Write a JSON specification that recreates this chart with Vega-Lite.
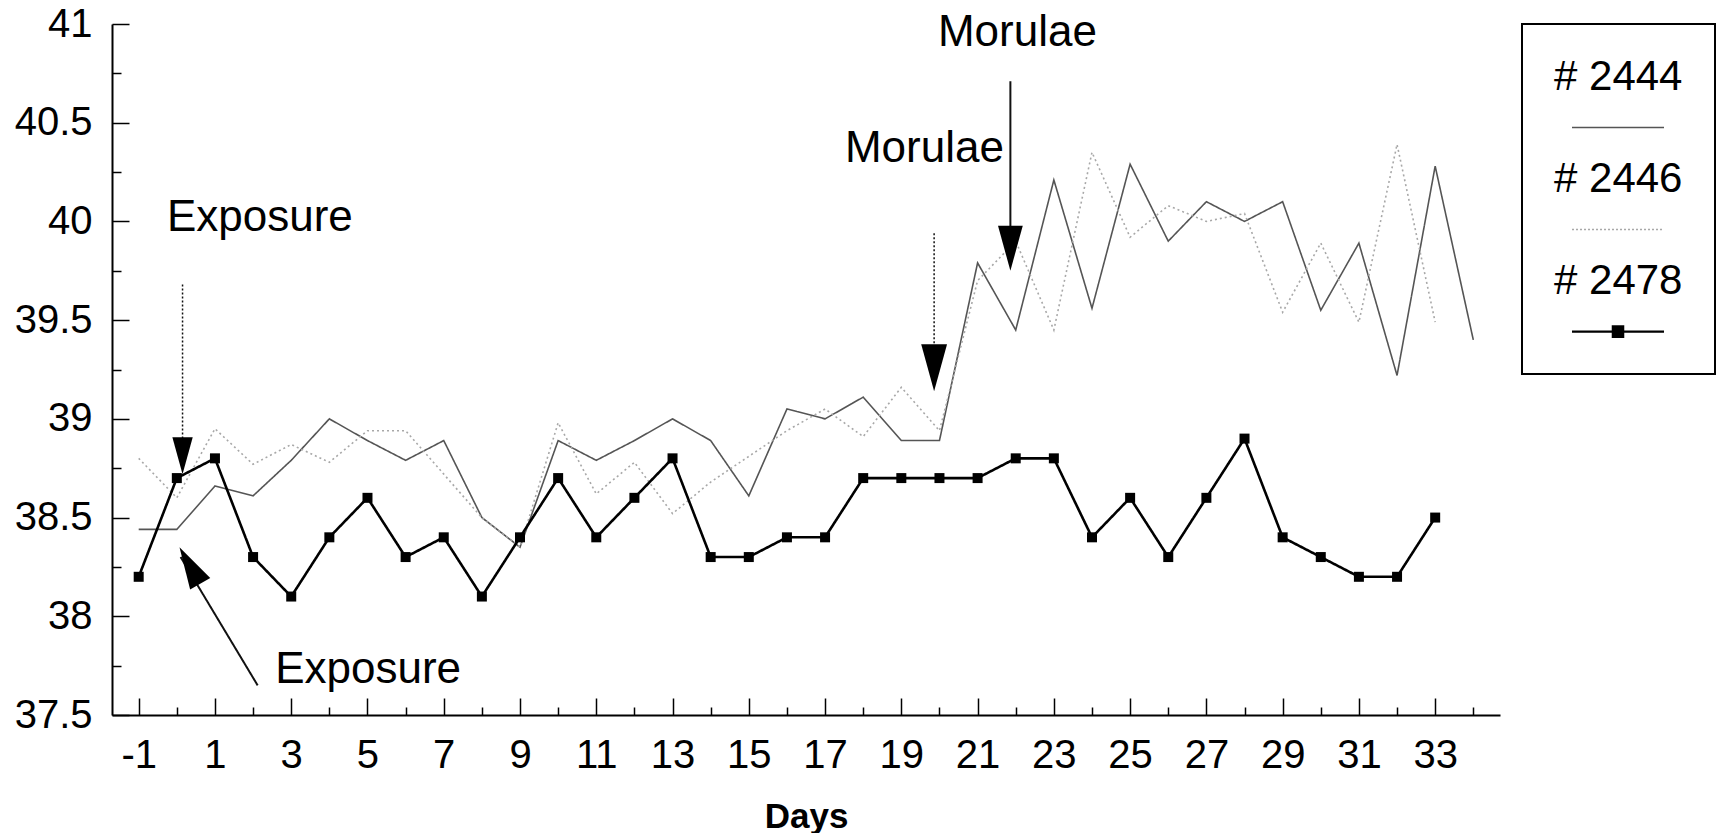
{
  "$schema": "https://vega.github.io/schema/vega-lite/v6.json",
  "width": 1388,
  "height": 691,
  "autosize": {"type": "none"},
  "padding": {"left": 112, "top": 24, "right": 218, "bottom": 118},
  "background": "white",
  "config": {"view": {"stroke": null}, "font": "Liberation Sans"},
  "datasets": {
    "temps": [
      {"series": "# 2444", "day": -1, "temp": 38.44}, {"series": "# 2444", "day": 0, "temp": 38.44}, {"series": "# 2444", "day": 1, "temp": 38.66}, {"series": "# 2444", "day": 2, "temp": 38.61}, {"series": "# 2444", "day": 3, "temp": 38.79}, {"series": "# 2444", "day": 4, "temp": 39.0}, {"series": "# 2444", "day": 5, "temp": 38.89}, {"series": "# 2444", "day": 6, "temp": 38.79}, {"series": "# 2444", "day": 7, "temp": 38.89}, {"series": "# 2444", "day": 8, "temp": 38.5}, {"series": "# 2444", "day": 9, "temp": 38.35}, {"series": "# 2444", "day": 10, "temp": 38.89}, {"series": "# 2444", "day": 11, "temp": 38.79}, {"series": "# 2444", "day": 12, "temp": 38.89}, {"series": "# 2444", "day": 13, "temp": 39.0}, {"series": "# 2444", "day": 14, "temp": 38.89}, {"series": "# 2444", "day": 15, "temp": 38.61}, {"series": "# 2444", "day": 16, "temp": 39.05}, {"series": "# 2444", "day": 17, "temp": 39.0}, {"series": "# 2444", "day": 18, "temp": 39.11}, {"series": "# 2444", "day": 19, "temp": 38.89}, {"series": "# 2444", "day": 20, "temp": 38.89}, {"series": "# 2444", "day": 21, "temp": 39.79}, {"series": "# 2444", "day": 22, "temp": 39.45}, {"series": "# 2444", "day": 23, "temp": 40.21}, {"series": "# 2444", "day": 24, "temp": 39.56}, {"series": "# 2444", "day": 25, "temp": 40.29}, {"series": "# 2444", "day": 26, "temp": 39.9}, {"series": "# 2444", "day": 27, "temp": 40.1}, {"series": "# 2444", "day": 28, "temp": 40.0}, {"series": "# 2444", "day": 29, "temp": 40.1}, {"series": "# 2444", "day": 30, "temp": 39.55}, {"series": "# 2444", "day": 31, "temp": 39.89}, {"series": "# 2444", "day": 32, "temp": 39.22}, {"series": "# 2444", "day": 33, "temp": 40.28}, {"series": "# 2444", "day": 34, "temp": 39.4},
      {"series": "# 2446", "day": -1, "temp": 38.8}, {"series": "# 2446", "day": 0, "temp": 38.6}, {"series": "# 2446", "day": 1, "temp": 38.95}, {"series": "# 2446", "day": 2, "temp": 38.77}, {"series": "# 2446", "day": 3, "temp": 38.87}, {"series": "# 2446", "day": 4, "temp": 38.78}, {"series": "# 2446", "day": 5, "temp": 38.94}, {"series": "# 2446", "day": 6, "temp": 38.94}, {"series": "# 2446", "day": 7, "temp": 38.72}, {"series": "# 2446", "day": 8, "temp": 38.5}, {"series": "# 2446", "day": 9, "temp": 38.35}, {"series": "# 2446", "day": 10, "temp": 38.98}, {"series": "# 2446", "day": 11, "temp": 38.62}, {"series": "# 2446", "day": 12, "temp": 38.78}, {"series": "# 2446", "day": 13, "temp": 38.52}, {"series": "# 2446", "day": 14, "temp": 38.68}, {"series": "# 2446", "day": 15, "temp": 38.81}, {"series": "# 2446", "day": 16, "temp": 38.94}, {"series": "# 2446", "day": 17, "temp": 39.05}, {"series": "# 2446", "day": 18, "temp": 38.91}, {"series": "# 2446", "day": 19, "temp": 39.16}, {"series": "# 2446", "day": 20, "temp": 38.94}, {"series": "# 2446", "day": 21, "temp": 39.7}, {"series": "# 2446", "day": 22, "temp": 39.9}, {"series": "# 2446", "day": 23, "temp": 39.45}, {"series": "# 2446", "day": 24, "temp": 40.35}, {"series": "# 2446", "day": 25, "temp": 39.92}, {"series": "# 2446", "day": 26, "temp": 40.08}, {"series": "# 2446", "day": 27, "temp": 40.0}, {"series": "# 2446", "day": 28, "temp": 40.04}, {"series": "# 2446", "day": 29, "temp": 39.54}, {"series": "# 2446", "day": 30, "temp": 39.89}, {"series": "# 2446", "day": 31, "temp": 39.49}, {"series": "# 2446", "day": 32, "temp": 40.39}, {"series": "# 2446", "day": 33, "temp": 39.49},
      {"series": "# 2478", "day": -1, "temp": 38.2}, {"series": "# 2478", "day": 0, "temp": 38.7}, {"series": "# 2478", "day": 1, "temp": 38.8}, {"series": "# 2478", "day": 2, "temp": 38.3}, {"series": "# 2478", "day": 3, "temp": 38.1}, {"series": "# 2478", "day": 4, "temp": 38.4}, {"series": "# 2478", "day": 5, "temp": 38.6}, {"series": "# 2478", "day": 6, "temp": 38.3}, {"series": "# 2478", "day": 7, "temp": 38.4}, {"series": "# 2478", "day": 8, "temp": 38.1}, {"series": "# 2478", "day": 9, "temp": 38.4}, {"series": "# 2478", "day": 10, "temp": 38.7}, {"series": "# 2478", "day": 11, "temp": 38.4}, {"series": "# 2478", "day": 12, "temp": 38.6}, {"series": "# 2478", "day": 13, "temp": 38.8}, {"series": "# 2478", "day": 14, "temp": 38.3}, {"series": "# 2478", "day": 15, "temp": 38.3}, {"series": "# 2478", "day": 16, "temp": 38.4}, {"series": "# 2478", "day": 17, "temp": 38.4}, {"series": "# 2478", "day": 18, "temp": 38.7}, {"series": "# 2478", "day": 19, "temp": 38.7}, {"series": "# 2478", "day": 20, "temp": 38.7}, {"series": "# 2478", "day": 21, "temp": 38.7}, {"series": "# 2478", "day": 22, "temp": 38.8}, {"series": "# 2478", "day": 23, "temp": 38.8}, {"series": "# 2478", "day": 24, "temp": 38.4}, {"series": "# 2478", "day": 25, "temp": 38.6}, {"series": "# 2478", "day": 26, "temp": 38.3}, {"series": "# 2478", "day": 27, "temp": 38.6}, {"series": "# 2478", "day": 28, "temp": 38.9}, {"series": "# 2478", "day": 29, "temp": 38.4}, {"series": "# 2478", "day": 30, "temp": 38.3}, {"series": "# 2478", "day": 31, "temp": 38.2}, {"series": "# 2478", "day": 32, "temp": 38.2}, {"series": "# 2478", "day": 33, "temp": 38.5}
    ],
    "notes": [
      {"label": "Exposure", "day": -0.26, "temp": 39.95},
      {"label": "Exposure", "day": 2.58, "temp": 37.66},
      {"label": "Morulae", "day": 19.96, "temp": 40.89},
      {"label": "Morulae", "day": 17.52, "temp": 40.3}
    ],
    "arrows": [
      {"kind": "dotted", "x0": 0.15, "y0": 39.68, "x1": 0.15, "y1": 38.8},
      {"kind": "dotted", "x0": 19.86, "y0": 39.94, "x1": 19.86, "y1": 39.25},
      {"kind": "solid", "x0": 21.86, "y0": 40.71, "x1": 21.86, "y1": 39.85},
      {"kind": "solid", "x0": 2.12, "y0": 37.65, "x1": 0.1, "y1": 38.3}
    ],
    "heads": [
      {"day": 0.15, "temp": 38.72, "angle": 0, "size": 1369},
      {"day": 19.86, "temp": 39.14, "angle": 0, "size": 2209},
      {"day": 21.86, "temp": 39.75, "angle": 0, "size": 2025},
      {"day": 0.07, "temp": 38.35, "angle": 150.5, "size": 1764}
    ]
  },
  "resolve": {"axis": {"x": "independent", "y": "independent"}},
  "layer": [
    {
      "data": {"name": "temps"},
      "mark": {"type": "line"},
      "encoding": {
        "x": {"field": "day", "type": "quantitative", "scale": {"domain": [-1.7, 34.7], "nice": false, "zero": false},
          "axis": {"orient": "bottom", "values": [-1, 1, 3, 5, 7, 9, 11, 13, 15, 17, 19, 21, 23, 25, 27, 29, 31, 33], "labelExpr": "'' + datum.value", "tickSize": -17, "tickWidth": 1.5, "tickColor": "black", "domainColor": "black", "domainWidth": 2, "labelFontSize": 40, "labelFont": "Liberation Sans", "labelColor": "black", "labelPadding": 37, "labelFlush": false, "labelOverlap": false, "grid": false, "title": "Days", "titleFont": "Liberation Sans", "titleFontSize": 35, "titleFontWeight": "bold", "titleColor": "black", "titlePadding": 24}},
        "y": {"field": "temp", "type": "quantitative", "scale": {"domain": [37.5, 41], "nice": false, "zero": false},
          "axis": {"orient": "left", "values": [37.5, 38, 38.5, 39, 39.5, 40, 40.5, 41], "labelExpr": "'' + datum.value", "tickSize": -17, "tickWidth": 1.5, "tickColor": "black", "domainColor": "black", "domainWidth": 2, "labelFontSize": 40, "labelFont": "Liberation Sans", "labelColor": "black", "labelPadding": 37, "labelFlush": false, "labelOverlap": false, "grid": false, "title": null}},
        "color": {"field": "series", "type": "nominal",
          "scale": {"domain": ["# 2444", "# 2446", "# 2478"], "range": ["#555555", "#a8a8a8", "#000000"]},
          "legend": {
            "title": null, "orient": "right", "offset": 22, "padding": 32, "strokeColor": "black", "fillColor": "white",
            "symbolSize": 529, "symbolStrokeWidth": 1.5, "symbolOffset": 43,
            "labelFontSize": 42, "labelFont": "Liberation Sans", "labelColor": "black", "labelAlign": "left", "labelBaseline": "middle", "labelLimit": 400, "rowPadding": 27,
            "encode": {
              "symbols": {"update": {
                "shape": {"signal": "datum.value === '# 2478' ? 'M-4,4.4H4M-0.45,3.95H0.45V4.85H-0.45Z' : 'M-4,4.4H4'"},
                "strokeDash": {"signal": "datum.value === '# 2446' ? [2,2] : [1,0]"},
                "fill": {"value": "black"},
                "strokeWidth": {"signal": "datum.value === '# 2478' ? 2.2 : 1.5"}
              }},
              "labels": {"update": {"x": {"value": 0}}},
              "legend": {"update": {"strokeWidth": {"value": 2}}}
            }
          }},
        "strokeDash": {"condition": {"test": "datum.series === '# 2446'", "value": [2, 3]}, "value": [1, 0]},
        "strokeWidth": {"condition": {"test": "datum.series === '# 2478'", "value": 2.6}, "value": 1.6}
      }
    },
    {
      "data": {"name": "temps"},
      "transform": [{"filter": "datum.series === '# 2478'"}],
      "mark": {"type": "square", "size": 100, "color": "black", "filled": true, "opacity": 1},
      "encoding": {
        "x": {"field": "day", "type": "quantitative",
          "axis": {"orient": "bottom", "values": [0, 2, 4, 6, 8, 10, 12, 14, 16, 18, 20, 22, 24, 26, 28, 30, 32, 34], "tickSize": -8, "tickWidth": 1.5, "tickColor": "black", "labels": false, "domain": false, "grid": false, "title": null}},
        "y": {"field": "temp", "type": "quantitative",
          "axis": {"orient": "left", "values": [37.75, 38.25, 38.75, 39.25, 39.75, 40.25, 40.75], "tickSize": -9, "tickWidth": 1.5, "tickColor": "black", "labels": false, "domain": false, "grid": false, "title": null}}
      }
    },
    {
      "data": {"name": "arrows"},
      "mark": {"type": "rule", "color": "#111111"},
      "encoding": {
        "x": {"field": "x0", "type": "quantitative", "axis": null},
        "y": {"field": "y0", "type": "quantitative", "axis": null},
        "x2": {"field": "x1"},
        "y2": {"field": "y1"},
        "strokeDash": {"condition": {"test": "datum.kind === 'dotted'", "value": [2, 2]}, "value": [1, 0]},
        "strokeWidth": {"condition": {"test": "datum.kind === 'dotted'", "value": 1.5}, "value": 2}
      }
    },
    {
      "data": {"name": "heads"},
      "mark": {"type": "point", "shape": "M-0.55,-2L0.55,-2L0,0Z", "filled": true, "color": "black", "opacity": 1},
      "encoding": {
        "x": {"field": "day", "type": "quantitative", "axis": null},
        "y": {"field": "temp", "type": "quantitative", "axis": null},
        "angle": {"field": "angle", "type": "quantitative", "scale": null},
        "size": {"field": "size", "type": "quantitative", "scale": null, "legend": null}
      }
    },
    {
      "data": {"name": "notes"},
      "mark": {"type": "text", "align": "left", "baseline": "alphabetic", "fontSize": 44, "font": "Liberation Sans", "color": "black"},
      "encoding": {
        "x": {"field": "day", "type": "quantitative", "axis": null},
        "y": {"field": "temp", "type": "quantitative", "axis": null},
        "text": {"field": "label", "type": "nominal"}
      }
    }
  ]
}
